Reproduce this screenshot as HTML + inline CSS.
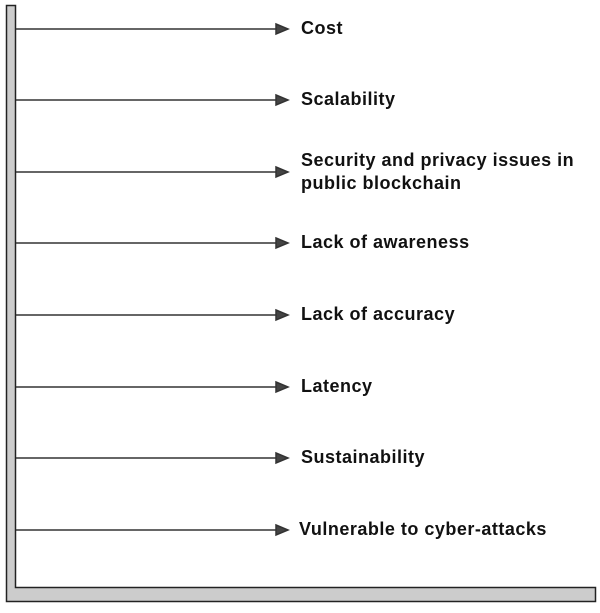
<!DOCTYPE html>
<html><head><style>
html,body{margin:0;padding:0;background:#fff;width:600px;height:613px;overflow:hidden}
svg{position:absolute;left:0;top:0}
text{font-family:"Liberation Sans",Arial,sans-serif;font-weight:bold;font-size:18px;letter-spacing:0.5px;fill:#111}
</style></head><body>
<svg width="600" height="613" viewBox="0 0 600 613">
<path d="M6.5 5.5 H15.5 V587.5 H595.5 V601.5 H6.5 Z" fill="#cccccc" stroke="#222" stroke-width="1.5"/>
<g stroke="#333" stroke-width="1.5" fill="#444">
<line x1="16" y1="29" x2="278" y2="29"/><polygon points="276,24 288,29 276,34"/>
<line x1="16" y1="100" x2="278" y2="100"/><polygon points="276,95 288,100 276,105"/>
<line x1="16" y1="172" x2="278" y2="172"/><polygon points="276,167 288,172 276,177"/>
<line x1="16" y1="243" x2="278" y2="243"/><polygon points="276,238 288,243 276,248"/>
<line x1="16" y1="315" x2="278" y2="315"/><polygon points="276,310 288,315 276,320"/>
<line x1="16" y1="387" x2="278" y2="387"/><polygon points="276,382 288,387 276,392"/>
<line x1="16" y1="458" x2="278" y2="458"/><polygon points="276,453 288,458 276,463"/>
<line x1="16" y1="530" x2="278" y2="530"/><polygon points="276,525 288,530 276,535"/>
</g>
<text x="301" y="34">Cost</text>
<text x="301" y="105">Scalability</text>
<text x="301" y="166">Security and privacy issues in</text>
<text x="301" y="189">public blockchain</text>
<text x="301" y="248">Lack of awareness</text>
<text x="301" y="320">Lack of accuracy</text>
<text x="301" y="392">Latency</text>
<text x="301" y="463">Sustainability</text>
<text x="299" y="535">Vulnerable to cyber-attacks</text>
</svg>
</body></html>
